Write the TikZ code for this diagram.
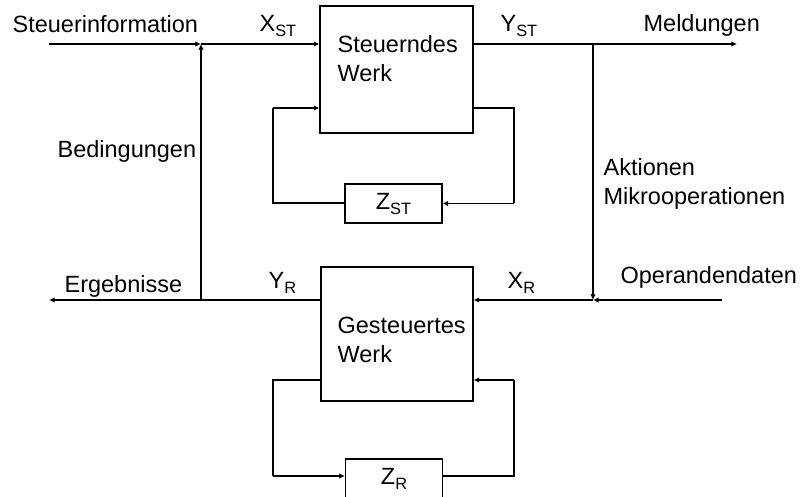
\documentclass[tikz,border=0pt]{standalone}
\usepackage{fontspec}
\setmainfont{Liberation Sans}
\usetikzlibrary{arrows.meta}

\newcommand{\idx}[1]{\raisebox{-2.5pt}{\fontsize{8.2}{9}\selectfont #1}}

\tikzstyle{werk} = [
	draw = black,
	minimum width = 76.5pt,
	minimum height = 63.5pt
	]
\tikzstyle{zbox} = [
	draw = black,
	minimum width = 48.5pt,
	minimum height = 19.5pt
	]
\tikzstyle{lbl} = [
	anchor = base west,
	align = left
	]
\tikzstyle{rueck} = [
	line width = 1pt
	]

\begin{document}
\begin{tikzpicture}[
	x = 0.5pt, y = -0.5pt,
	line width = 0.6pt,
	>={Latex[length=2.8pt,width=2.8pt]},
	every node/.style = {
	font = \fontsize{11.75}{14.5}\selectfont,
	inner sep = 0pt
	}
	]

			   \useasboundingbox (0,0) rectangle (802,497);

			   % Werke
			   \node[werk] (sw) at (396.5,69.5) {};
			   \node[werk, minimum width=76pt, minimum height=67pt] (gw) at (397,334) {};
			   \node[zbox] (zst) at (393.5,203.5) {Z\idx{ST}};
			   \node[zbox] (zr) at (394,478.5) {Z\idx{R}};

			   % Beschriftungen (base = letzte Zeile)
			   \node[lbl] (steuerinfo) at (12,33) {Steuerinformation};
			   \node[lbl] (xst) at (259,32) {X\idx{ST}};
			   \node[lbl] (yst) at (500,32) {Y\idx{ST}};
			   \node[lbl] (meld) at (643,32) {Meldungen};
			   \node[lbl] (bed) at (57,158) {Bedingungen};
			   \node[lbl] (akt) at (603,205) {Aktionen\\Mikrooperationen};
			   \node[lbl] (erg) at (64,292) {Ergebnisse};
			   \node[lbl] (yr) at (268,288) {Y\idx{R}};
			   \node[lbl] (xr) at (507,288) {X\idx{R}};
			   \node[lbl] (opd) at (620,283) {Operandendaten};
			   \node[lbl] (swtext) at (337,82) {Steuerndes\\Werk};
			   \node[lbl] (gwtext) at (337,362) {Gesteuertes\\Werk};

			   \coordinate (ein) at (49,44);
			   \coordinate (jb) at (201,44);
			   \coordinate (ja) at (593,44);
			   \coordinate (aus) at (737,44);
			   \coordinate (opin) at (722,300);
			   \coordinate (jx) at (593,300);
			   \coordinate (je) at (201,300);
			   \coordinate (ergout) at (49,300);

			   \draw[->] (ein) -- (jb);
			   \draw[->] (jb) -- (sw.west |- jb);
			   \draw[->] (sw.east |- ja) -- (aus);
			   \draw[->] (ja) -- (jx);
			   \draw[->] (opin) -- (jx);
			   \draw[->] (jx) -- (gw.east |- jx);
			   \draw[->] (gw.west |- je) -- (ergout);
			   \draw[->] (je) -- (jb);

			   % Rueckkopplung oben
			   \coordinate (sl) at (273,108);
			   \coordinate (sr) at (514,108);
			   \draw[rueck] (sw.east |- sr) -- (sr) -- (sr |- zst.east);
			   \draw[->] (sr |- zst.east) -- (zst.east);
			   \draw[rueck] (zst.west) -- (sl |- zst.west) -- (sl);
			   \draw[->] (sl) -- (sw.west |- sl);

			   % Rueckkopplung unten
			   \coordinate (gl) at (273,380);
			   \coordinate (gr) at (514,380);
			   \coordinate (gu) at (273,476);
			   \draw[rueck] (gw.west |- gl) -- (gl) -- (gu);
			   \draw[->] (gu) -- (zr.west |- gu);
			   \draw[rueck] (zr.east |- gu) -- (gu -| gr) -- (gr);
			   \draw[->] (gr) -- (gw.east |- gr);
		   \end{tikzpicture}
\end{document}
